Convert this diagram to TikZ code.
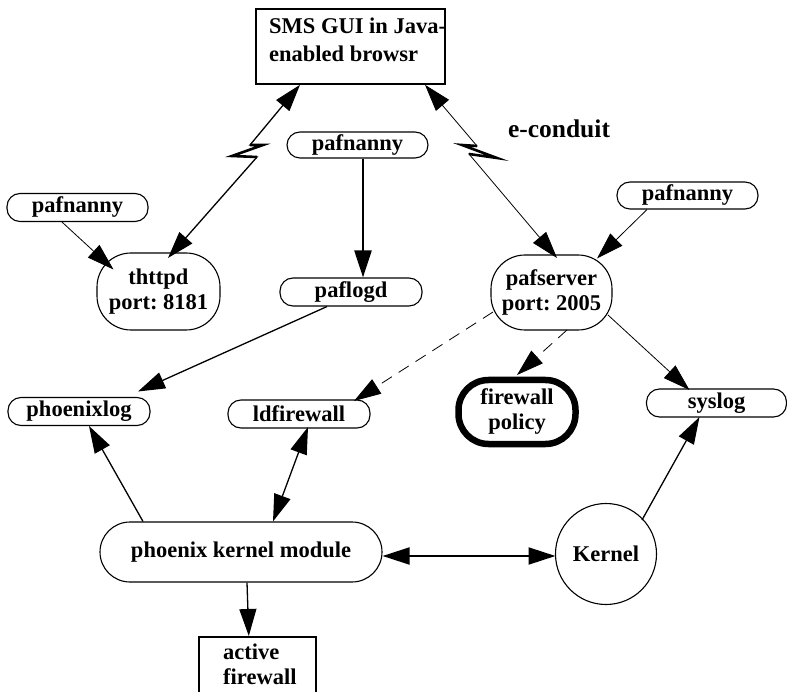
\documentclass[tikz,border=0pt]{standalone}
\usepackage{fontspec}
\setmainfont{Liberation Serif}
\frenchspacing
\usetikzlibrary{arrows.meta,calc}
\tikzset{
  every node/.style={font=\bfseries\fontsize{22.5pt}{25pt}\selectfont},
  pill/.style={draw, rounded corners=13pt, minimum width=141pt, minimum height=28pt, inner sep=0pt, line width=1.1pt},
  oval/.style={draw, rounded corners=34pt, minimum width=122pt, minimum height=76pt, inner sep=0pt, align=center, line width=1.1pt},
  boxnode/.style={draw, rectangle, inner sep=0pt, line width=1.6pt},
  txt/.style={inner sep=0pt, align=left},
  conn/.style={line width=1.3pt, >={Triangle[length=27pt,width=17pt]}},
  thinconn/.style={line width=0.8pt, >={Triangle[length=27pt,width=17pt]}},
  zig/.style={line width=2.6pt, line join=miter},
}
\begin{document}
\begin{tikzpicture}[x=1pt,y=-1pt]
\useasboundingbox (0,0) rectangle (787,692);
% nodes
\node[boxnode, minimum width=189pt, minimum height=75pt] (sms) at (350.5,46.5) {};
\node[txt, anchor=north west, font=\bfseries\fontsize{22.5pt}{28pt}\selectfont] (smstext) at (269,18) {SMS GUI in Java-\\enabled browsr};
\node[pill, minimum height=26pt] (pn1) at (357.5,145) {pafnanny};
\node[pill] (pn2) at (77.5,207.5) {pafnanny};
\node[pill, minimum height=27pt] (pn3) at (687.5,195.5) {pafnanny};
\node[oval, minimum width=123pt, minimum height=77pt] (thttpd) at (158.5,291.5) {thttpd\\port: 8181};
\node[oval, minimum width=121pt, minimum height=75pt] (pafserver) at (551.5,292.5) {pafserver\\port: 2005};
\node[pill, minimum width=142pt] (paflogd) at (351,292) {paflogd};
\node[pill, minimum width=142pt] (phoenixlog) at (79,411.5) {phoenixlog};
\node[pill, minimum width=142pt] (ldfirewall) at (299,414) {ldfirewall};
\node[draw, rounded corners=30pt, minimum width=117pt, minimum height=64pt, inner sep=0pt, align=center, line width=6.5pt] (fwpol) at (517,412) {firewall\\policy};
\node[pill, minimum width=140pt] (syslog) at (716.5,403) {syslog};
\node[draw, rounded corners=30pt, minimum width=282pt, minimum height=60pt, inner sep=0pt, line width=1.1pt] (pkm) at (241,552) {phoenix kernel module};
\node[draw, circle, minimum size=101pt, inner sep=0pt, line width=1.1pt] (kernel) at (606,554) {Kernel};
\node[boxnode, anchor=north west, minimum width=117pt, minimum height=100pt] (actfw) at (198,636) {};
\node[txt, anchor=north west] (actfwtext) at (223,644) {active\\firewall};
\node[inner sep=0pt, anchor=base, font=\bfseries\fontsize{25.5pt}{28pt}\selectfont] (econduit) at (559,138) {e-conduit};
% break points
\coordinate (Z1) at (250,145);
\coordinate (Z2) at (263,145);
\coordinate (Z3) at (232,156);
\coordinate (Z4) at (257,157);
\coordinate (Y1) at (477,146);
\coordinate (Y2) at (462,145);
\coordinate (Y3) at (497,158);
\coordinate (Y4) at (469,154);
% connectors
\draw[conn,<->] ([xshift=-50.5pt]sms.south) -- (Z1) -- (Z2) -- (Z3) -- (Z4) -- ($(thttpd.center)+(9.5,-33.5)$);
\draw[zig] (Z1) -- (Z2) -- (Z3) -- (Z4);
\draw[thinconn,<->] ([xshift=74.5pt]sms.south) -- (Y1) -- (Y2) -- (Y3) -- (Y4) -- ($(pafserver.center)+(5.5,-34.5)$);
\draw[zig] (Y1) -- (Y2) -- (Y3) -- (Y4);
\draw[conn,line width=2.4pt,->] ([xshift=5.5pt]pn1.south) -- ([xshift=12pt]paflogd.north);
\draw[thinconn,->] ([xshift=-15.5pt]pn2.south) -- ($(thttpd.center)+(-45,-22)$);
\draw[thinconn,->] ([xshift=-40.5pt]pn3.south) -- ($(pafserver.center)+(45.5,-34)$);
\draw[conn,->] ([xshift=-24pt]paflogd.south) -- ($(phoenixlog.center)+(59,-20)$);
\draw[thinconn,->,dash pattern=on 12pt off 8pt] ($(pafserver.center)+(-58.5,19.5)$) -- ($(ldfirewall.center)+(55,-13)$);
\draw[thinconn,->,dash pattern=on 12pt off 8pt] ($(pafserver.center)+(15.5,37.5)$) -- ($(fwpol.center)+(0,-37)$);
\draw[thinconn,->] ($(pafserver.center)+(56.5,22.5)$) -- ($(syslog.center)+(-27,-13)$);
\draw[conn,->] ([xshift=-98pt]pkm.north) -- ($(phoenixlog.center)+(10,14.5)$);
\draw[conn,<->] ([xshift=32pt]pkm.north) -- ($(ldfirewall.center)+(9,13)$);
\draw[conn,->] ([xshift=6pt]pkm.south) -- ([xshift=-8.5pt]actfw.north);
\draw[conn,line width=2pt,<->] ($(pkm.east)+(0,4)$) -- ($(kernel.center)+(-50.5,2)$);
\draw[conn,->] ($(kernel.center)+(36,-34)$) -- ($(syslog.center)+(-17,14)$);
\end{tikzpicture}
\end{document}
